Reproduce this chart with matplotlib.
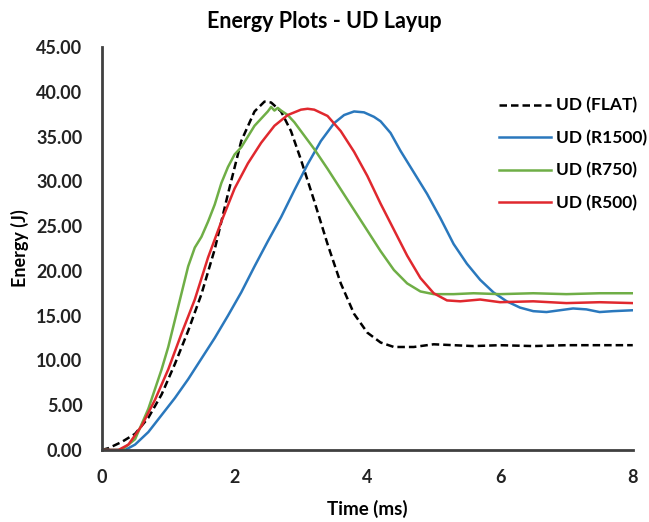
import matplotlib.pyplot as plt

# time (ms) and energy (J)
t_flat = [0, 0.1, 0.3, 0.5, 0.7, 0.9, 1.1, 1.3, 1.5, 1.7, 1.9, 2.1, 2.3, 2.45, 2.55,
          2.7, 2.85, 3.0, 3.2, 3.4, 3.6, 3.8, 4.0, 4.2, 4.4, 4.7, 5.0, 5.3, 5.6, 6.0,
          6.5, 7.0, 7.5, 8.0]
e_flat = [0, 0.2, 0.9, 1.8, 3.6, 6.2, 9.6, 13.3, 17.4, 22.4, 28.6, 34.5, 37.8, 38.9, 38.8,
          37.8, 35.6, 32.4, 27.8, 23.0, 18.6, 15.2, 13.1, 12.0, 11.5, 11.5, 11.8, 11.7, 11.6, 11.7,
          11.6, 11.7, 11.7, 11.7]

t_r1500 = [0, 0.35, 0.5, 0.7, 0.9, 1.1, 1.3, 1.5, 1.7, 1.9, 2.1, 2.3, 2.5, 2.7, 2.9, 3.1,
           3.3, 3.5, 3.65, 3.8, 3.95, 4.1, 4.2, 4.35, 4.5, 4.7, 4.9, 5.1, 5.3, 5.5, 5.7,
           5.9, 6.1, 6.3, 6.5, 6.7, 6.9, 7.1, 7.3, 7.5, 7.7, 8.0]
e_r1500 = [0, 0, 0.6, 2.0, 3.9, 5.8, 7.9, 10.2, 12.5, 15.0, 17.6, 20.5, 23.3, 26.0, 29.0, 31.9,
           34.5, 36.5, 37.4, 37.8, 37.7, 37.2, 36.7, 35.4, 33.4, 31.0, 28.6, 25.9, 23.0, 20.8, 19.0,
           17.6, 16.6, 15.9, 15.5, 15.4, 15.6, 15.8, 15.7, 15.4, 15.5, 15.6]

t_r750 = [0, 0.3, 0.5, 0.7, 0.9, 1.0, 1.1, 1.2, 1.3, 1.4, 1.5, 1.6, 1.7, 1.8, 1.9, 2.0,
          2.1, 2.2, 2.3, 2.4, 2.5, 2.55, 2.6, 2.65, 2.7, 2.8, 2.9, 3.0, 3.2, 3.4, 3.6,
          3.8, 4.0, 4.2, 4.4, 4.6, 4.8, 5.0, 5.3, 5.6, 6.0, 6.5, 7.0, 7.5, 8.0]
e_r750 = [0, 0, 1.2, 4.6, 9.0, 11.5, 14.5, 17.5, 20.5, 22.6, 23.8, 25.5, 27.4, 29.8, 31.6, 33.0,
          33.8, 35.0, 36.2, 37.0, 37.8, 38.3, 37.9, 38.2, 37.9, 37.4, 36.6, 35.6, 33.6, 31.4, 29.1,
          26.8, 24.5, 22.2, 20.1, 18.6, 17.7, 17.4, 17.4, 17.5, 17.4, 17.5, 17.4, 17.5, 17.5]

t_r500 = [0, 0.25, 0.4, 0.6, 0.8, 1.0, 1.2, 1.4, 1.6, 1.8, 2.0, 2.2, 2.4, 2.6, 2.8, 3.0,
          3.1, 3.2, 3.4, 3.6, 3.8, 4.0, 4.2, 4.4, 4.6, 4.8, 5.0, 5.2, 5.4, 5.7, 6.0,
          6.5, 7.0, 7.5, 8.0]
e_r500 = [0, 0, 0.6, 2.7, 5.6, 9.0, 13.0, 16.8, 21.5, 25.5, 29.2, 32.0, 34.3, 36.2, 37.4, 38.0,
          38.1, 38.0, 37.3, 35.6, 33.3, 30.6, 27.5, 24.6, 21.7, 19.2, 17.5, 16.7, 16.6, 16.8, 16.5,
          16.6, 16.4, 16.5, 16.4]

plt.rcParams["font.family"] = "Lato"
plt.rcParams["font.weight"] = "bold"

fig = plt.figure(figsize=(6.49, 5.22), dpi=100)
ax = fig.add_axes([0.157, 0.138, 0.818, 0.772])

ax.plot(t_flat, e_flat, color="black", linestyle=(0, (3, 1.6)), linewidth=1.8, label="UD (FLAT)")
ax.plot(t_r1500, e_r1500, color="#2a78bd", linewidth=1.8, label="UD (R1500)")
ax.plot(t_r750, e_r750, color="#6fae46", linewidth=1.8, label="UD (R750)")
ax.plot(t_r500, e_r500, color="#e0282e", linewidth=1.8, label="UD (R500)")

ax.set_xlim(0, 8)
ax.set_ylim(0, 45)
ax.set_xticks([0, 2, 4, 6, 8])
ax.set_yticks(range(0, 50, 5))
ax.set_yticklabels([f"{v:.2f}" for v in range(0, 50, 5)])
ax.tick_params(length=0, labelsize=13, colors="#222222")
ax.tick_params(axis="y", pad=14)
ax.tick_params(axis="x", pad=14)

for s in ["top", "right"]:
    ax.spines[s].set_visible(False)
for s in ["left", "bottom"]:
    ax.spines[s].set_color("#404040")
    ax.spines[s].set_linewidth(2)

ax.set_xlabel("Time (ms)", fontsize=13.5, fontweight="bold", labelpad=10)
ax.set_ylabel("Energy (J)", fontsize=13, fontweight="bold", labelpad=5)
fig.suptitle("Energy Plots - UD Layup", fontsize=15.5, fontweight="bold", x=0.5, y=0.978)

ax.legend(loc="upper left", bbox_to_anchor=(0.725, 0.905), frameon=False, fontsize=12.5,
          handlelength=3.0, handletextpad=0.3, labelspacing=0.93, borderpad=0.2)

fig.savefig("out.png", dpi=100)
